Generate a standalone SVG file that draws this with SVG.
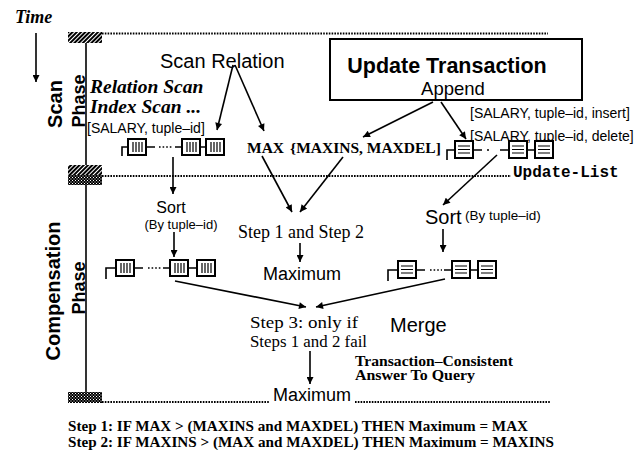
<svg xmlns="http://www.w3.org/2000/svg" width="640" height="450" viewBox="0 0 640 450">
<style>
.sans{font-family:"Liberation Sans",Arial,sans-serif;fill:#000}
.serif{font-family:"Liberation Serif","Times New Roman",serif;fill:#000}
.mono{font-family:"Liberation Mono","Courier New",monospace;fill:#000}
.b{font-weight:bold}
.it{font-style:italic}
.conn line{stroke:#000;stroke-width:1.6;marker-end:url(#ah)}
.wire{stroke:#000;stroke-width:1.6;fill:none}
.dots{stroke:#000;stroke-width:1.6;stroke-dasharray:1.6 2;fill:none}
.sep{stroke:#000;stroke-width:2;stroke-dasharray:1.6 1.2;fill:none}
</style>
<defs>
<marker id="ah" viewBox="0 0 10 10" refX="10" refY="5" markerWidth="8" markerHeight="7" markerUnits="userSpaceOnUse" orient="auto"><path d="M0,0 L10,5 L0,10 z" fill="#000"/></marker>
<pattern id="diag" width="3" height="3" patternUnits="userSpaceOnUse" patternTransform="rotate(45)"><rect width="3" height="3" fill="#000"/><rect width="1" height="3" fill="#fff"/></pattern>
<pattern id="check" width="3" height="3" patternUnits="userSpaceOnUse"><rect width="3" height="3" fill="#000"/><rect x="0" y="0" width="1" height="1" fill="#fff"/><rect x="1.5" y="1.5" width="1" height="1" fill="#fff"/></pattern>
<g id="vb"><rect x="0" y="0" width="18" height="16" fill="#fff" stroke="#000" stroke-width="2"/><path d="M5,3V13M8,3V13M11,3V13M14,3V13" stroke="#000" stroke-width="1.2"/></g>
<g id="hb"><rect x="0" y="0" width="18" height="17" fill="#fff" stroke="#000" stroke-width="2"/><path d="M3,5H15M3,8.5H15M3,12H15" stroke="#000" stroke-width="1.2"/></g>
</defs>
<rect width="640" height="450" fill="#fff"/>

<g id="timeline">
<text class="serif b it" x="15" y="23" font-size="18">Time</text>
<line x1="36" y1="33" x2="36" y2="82" stroke="#000" stroke-width="1.6" marker-end="url(#ah)"/>
<line x1="86" y1="42" x2="86" y2="393" stroke="#000" stroke-width="1.6"/>
<rect x="68" y="32" width="34" height="11" fill="url(#diag)"/>
<rect x="68" y="165" width="34" height="10" fill="url(#diag)"/>
<rect x="68" y="175" width="34" height="10" fill="url(#check)"/>
<rect x="68" y="392" width="34" height="11" fill="url(#check)"/>
<path class="sep" d="M102,33.5H548"/>
<path class="sep" d="M102,176H511"/>
<path class="sep" d="M102,402H270M355,402H550"/>
<text class="sans b" font-size="20" text-anchor="middle" transform="translate(62,104) rotate(-90)">Scan</text>
<text class="sans b" font-size="18" text-anchor="middle" transform="translate(85,101) rotate(-90)">Phase</text>
<text class="sans b" font-size="20" text-anchor="middle" transform="translate(60,291) rotate(-90)">Compensation</text>
<text class="sans b" font-size="18" text-anchor="middle" transform="translate(85,288) rotate(-90)">Phase</text>
<text class="mono b" x="513" y="177" font-size="16">Update-List</text>
</g>

<g id="scan-relation">
<text class="sans" x="160" y="68" font-size="20">Scan Relation</text>
<text class="serif b it" x="90" y="93" font-size="19.5">Relation Scan</text>
<text class="serif b it" x="90" y="113" font-size="19.5">Index Scan ...</text>
<text class="sans" x="87" y="133" font-size="14">[SALARY, tuple–id]</text>
</g>

<g id="scan-tuples">
<path class="wire" d="M122,156V147H128M146,147H155M175,147H182M200,147H206"/>
<path class="dots" d="M159,147H173"/>
<use href="#vb" x="128" y="139"/>
<use href="#vb" x="182" y="139"/>
<use href="#vb" x="206" y="139"/>
</g>

<g id="update-transaction">
<rect x="330" y="39" width="252" height="61" fill="#fff" stroke="#000" stroke-width="2"/>
<text class="sans b" x="447" y="73" font-size="21.5" text-anchor="middle">Update Transaction</text>
<text class="sans" x="453" y="95" font-size="18.5" text-anchor="middle">Append</text>
</g>

<g id="update-labels">
<text class="sans" x="470" y="118" font-size="14">[SALARY, tuple–id, insert]</text>
<text class="sans" x="470" y="141" font-size="14">[SALARY, tuple–id, delete]</text>
</g>

<g id="update-tuples">
<path class="wire" d="M447,160V150H455M473,150H482M500,150H509M527,150H535"/>
<circle cx="488" cy="150" r="1"/>
<use href="#hb" x="455" y="141"/>
<use href="#hb" x="509" y="141"/>
<use href="#hb" x="535" y="141"/>
</g>

<g id="max-values">
<text class="serif b" x="247" y="153" font-size="15.5">MAX<tspan dx="6">{MAXINS, MAXDEL]</tspan></text>
</g>

<g id="sort-left">
<text class="sans" x="171" y="213" font-size="16" text-anchor="middle">Sort</text>
<text class="sans" x="181" y="229" font-size="13" text-anchor="middle">(By tuple–id)</text>
</g>

<g id="sort-right">
<text class="sans" x="425" y="224" font-size="20">Sort</text>
<text class="sans" x="465" y="220" font-size="13.5">(By tuple–id)</text>
</g>

<g id="sorted-scan">
<path class="wire" d="M106,279V268H116M134,268H143M163,268H170M188,268H197"/>
<path class="dots" d="M148,268H161"/>
<use href="#vb" x="116" y="260"/>
<use href="#vb" x="170" y="260"/>
<use href="#vb" x="197" y="260"/>
</g>

<g id="sorted-update">
<path class="wire" d="M388,281V270H398M416,270H425M444,270H452M470,270H478"/>
<path class="dots" d="M430,270H442"/>
<use href="#hb" x="398" y="261"/>
<use href="#hb" x="452" y="261"/>
<use href="#hb" x="478" y="261"/>
</g>

<g id="step12">
<text class="serif" x="301" y="238" font-size="18" text-anchor="middle">Step 1 and Step 2</text>
</g>
<g id="maximum-mid">
<text class="sans" x="302" y="280" font-size="18" text-anchor="middle">Maximum</text>
</g>

<g id="step3">
<text class="serif" x="250" y="328" font-size="17" textLength="108" lengthAdjust="spacingAndGlyphs">Step 3: only if</text>
<text class="serif" x="250" y="347" font-size="17" textLength="117" lengthAdjust="spacingAndGlyphs">Steps 1 and 2 fail</text>
</g>
<g id="merge">
<text class="sans" x="390" y="332" font-size="20">Merge</text>
</g>
<g id="answer">
<text class="serif b" x="355" y="366" font-size="14" textLength="158" lengthAdjust="spacingAndGlyphs">Transaction–Consistent</text>
<text class="serif b" x="355" y="380" font-size="14" textLength="120" lengthAdjust="spacingAndGlyphs">Answer To Query</text>
</g>
<g id="maximum-final">
<text class="sans" x="312" y="401" font-size="18" text-anchor="middle">Maximum</text>
</g>

<g id="legend">
<text class="serif b" x="68" y="431" font-size="15" textLength="460" lengthAdjust="spacingAndGlyphs">Step 1: IF MAX &gt; (MAXINS and MAXDEL) THEN Maximum = MAX</text>
<text class="serif b" x="68" y="447" font-size="15" textLength="486" lengthAdjust="spacingAndGlyphs">Step 2: IF MAXINS &gt; (MAX and MAXDEL) THEN Maximum = MAXINS</text>
</g>

<g id="connectors" class="conn">
<line x1="233" y1="65" x2="217" y2="130"/>
<line x1="235" y1="65" x2="264" y2="131"/>
<line x1="433" y1="102" x2="363" y2="137"/>
<line x1="441" y1="102" x2="466" y2="139"/>
<line x1="173" y1="157" x2="173" y2="194"/>
<line x1="174" y1="232" x2="174" y2="257"/>
<line x1="497" y1="155" x2="443" y2="205"/>
<line x1="443" y1="229" x2="443" y2="252"/>
<line x1="262" y1="156" x2="292" y2="212"/>
<line x1="343" y1="157" x2="300" y2="212"/>
<line x1="300" y1="243" x2="300" y2="262"/>
<line x1="175" y1="281" x2="306" y2="307"/>
<line x1="445" y1="279" x2="316" y2="307"/>
<line x1="310" y1="351" x2="310" y2="384"/>
</g>
</svg>
